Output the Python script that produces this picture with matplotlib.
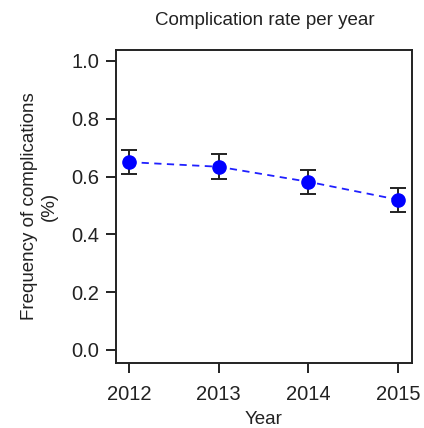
import matplotlib
matplotlib.use("Agg")
import matplotlib.pyplot as plt

years = [2012, 2013, 2014, 2015]
rate = [0.650, 0.634, 0.582, 0.520]
err_low = [0.042, 0.041, 0.041, 0.042]
err_high = [0.043, 0.043, 0.040, 0.041]

plt.rcParams["font.family"] = ["Liberation Sans", "DejaVu Sans"]
dark = "#222222"

fig = plt.figure(figsize=(4.24, 4.28), dpi=100)
ax = fig.add_axes([0.2736, 0.1519, 0.698, 0.7313])

ax.plot(years, rate, linestyle="--", color="#2020ff", linewidth=1.3, dashes=(4, 3), zorder=2)
ax.errorbar(years, rate, yerr=[err_low, err_high], fmt="none", ecolor=dark,
            elinewidth=1.4, capsize=6, capthick=1.4, zorder=3)
ax.plot(years, rate, "o", color="#0000ff", markersize=9.5, zorder=4)

ax.set_xlim(2011.855, 2015.156)
ax.set_ylim(-0.045, 1.038)
ax.set_xticks(years)
ax.set_yticks([0.0, 0.2, 0.4, 0.6, 0.8, 1.0])
ax.set_yticklabels(["0.0", "0.2", "0.4", "0.6", "0.8", "1.0"])

for s in ax.spines.values():
    s.set_linewidth(1.4)
    s.set_color(dark)
ax.tick_params(direction="out", length=7, width=1.4, color=dark, labelsize=14.5,
               labelcolor=dark, pad=5)
ax.tick_params(axis="x", pad=9)

ax.set_xlabel("Year", fontsize=13.5, color=dark)
ax.xaxis.set_label_coords(0.5, -0.152)
ax.set_ylabel("Frequency of complications\n(%)", fontsize=13.5, color=dark,
              linespacing=1.25)
ax.yaxis.set_label_coords(-0.196, 0.5)
fig.text(0.625, 0.953, "Complication rate per year", fontsize=13.5, color=dark,
         ha="center", va="center")

fig.savefig("out.png", dpi=100)
